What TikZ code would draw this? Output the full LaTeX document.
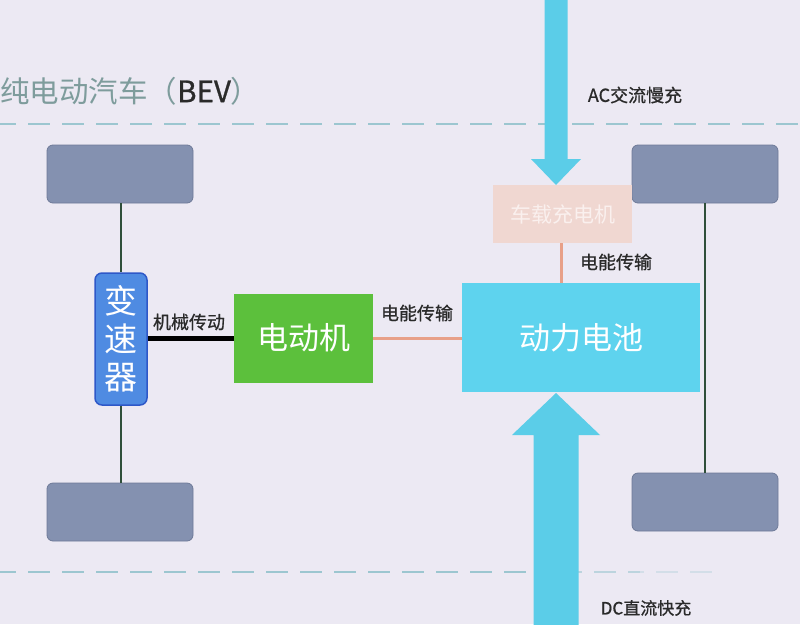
\documentclass[tikz,border=0pt]{standalone}
\usepackage{fontspec}
\setmainfont{Noto Sans CJK SC}
\newfontfamily\labfont[FakeBold=0.8]{Noto Sans CJK SC}
\usetikzlibrary{calc}
\definecolor{bg}{HTML}{ECE9F3}
\definecolor{wheelc}{HTML}{8491B0}
\definecolor{wheeld}{HTML}{6E7A98}
\definecolor{gearc}{HTML}{4F8BE2}
\definecolor{geard}{HTML}{2E58C8}
\definecolor{motorc}{HTML}{5CC03C}
\definecolor{battc}{HTML}{5ED3EE}
\definecolor{chgc}{HTML}{F0D7D1}
\definecolor{chgt}{HTML}{FAF0EE}
\definecolor{arrowc}{HTML}{5BCDE8}
\definecolor{axlec}{HTML}{2F4F3A}
\definecolor{elec}{HTML}{E8A088}
\definecolor{dashc}{HTML}{9CC6D0}
\definecolor{titlec}{HTML}{7E9C9C}
\definecolor{labc}{HTML}{2A2A2A}
\begin{document}
\begin{tikzpicture}[x=1pt,y=-1pt,
  wheel/.style={draw=wheeld,line width=0.8pt,fill=wheelc,rounded corners=6pt,minimum width=146pt,minimum height=58pt,inner sep=0pt},
  box/.style={inner sep=0pt,text=white},
  lab/.style={text=labc,inner sep=0pt,font=\labfont\fontsize{18}{20}\selectfont},
  axle/.style={draw=axlec,line width=2.2pt},
  eline/.style={draw=elec,line width=3pt},
  dline/.style={draw=dashc,line width=2pt,dash pattern=on 22pt off 12pt}]
\fill[bg] (0,0) rectangle (800,624);
\useasboundingbox (0,0) rectangle (800,624);

% dashed separators
\draw[dline] (-6,124) -- (800,124);
\draw[dline] (-6,572) -- (560,572);
\draw[dline,draw opacity=0.6] (560,572) -- (640,572);
\draw[dline,draw opacity=0.3,dash phase=18pt] (640,572) -- (720,572);

% title
\node[anchor=west,inner sep=0pt,text=titlec,font=\fontsize{29.5}{31}\selectfont] (title) at (0,91) {纯电动汽车（\textcolor{labc}{\labfont BEV}）};

% wheels
\node[wheel] (lw1) at (120,174) {};
\node[wheel] (lw2) at (120,512) {};
\node[wheel] (rw1) at (705,174) {};
\node[wheel] (rw2) at (705,502) {};

% transmission
\node[box,draw=geard,line width=1.5pt,fill=gearc,rounded corners=7pt,minimum width=52pt,minimum height=132pt,align=center,font=\fontsize{33}{38}\selectfont] (gear) at (121,339) {变\\速\\器};

% axles
\draw[axle] (lw1.south -| gear.north) -- (gear.north);
\draw[axle] (gear.south) -- (lw2.north -| gear.south);
\draw[axle] (rw1.south) -- (rw2.north);

% motor
\node[box,fill=motorc,minimum width=139pt,minimum height=89pt,font=\fontsize{31}{33}\selectfont] (motor) at (303.5,338) {电动机};

% battery
\node[box,fill=battc,minimum width=238pt,minimum height=109pt,font=\fontsize{31}{33}\selectfont] (batt) at (581,337.5) {动力电池};

% on-board charger
\node[box,fill=chgc,text=chgt,minimum width=139pt,minimum height=58pt,font=\fontsize{21}{23}\selectfont] (chg) at (562.5,214) {车载充电机};

% connectors
\draw[line width=5pt,black] (gear.east |- motor.west) -- (motor.west);
\node[lab] (mech) at (189,322) {机械传动};
\draw[eline] (motor.east) -- (batt.west |- motor.east);
\node[lab] (e1) at (417,313) {电能传输};
\draw[eline] (chg.south -| 561,0) -- (batt.north -| 561,0);
\node[lab] (e2) at (616,262) {电能传输};

% AC arrow (down into charger)
\coordinate (actip) at (556,185);
\coordinate (actail) at (556,-2);
\fill[arrowc] ($(actail)+(-11.5,0)$) -- ($(actail)+(11.5,0)$) -- (567.5,159) -- (581,159) -- (actip) -- (531,159) -- (544.5,159) -- cycle;
\node[lab] (ac) at (635,95) {AC交流慢充};

% DC arrow (up into battery)
\coordinate (dctip) at (556,393);
\coordinate (dctail) at (556,626);
\fill[arrowc] ($(dctail)+(-22.5,0)$) -- ($(dctail)+(22.5,0)$) -- (578.5,435) -- (600,435) -- (dctip) -- (512,435) -- (533.5,435) -- cycle;
\node[lab,font=\labfont\fontsize{17}{19}\selectfont] (dc) at (646,608) {DC直流快充};
\end{tikzpicture}
\end{document}
